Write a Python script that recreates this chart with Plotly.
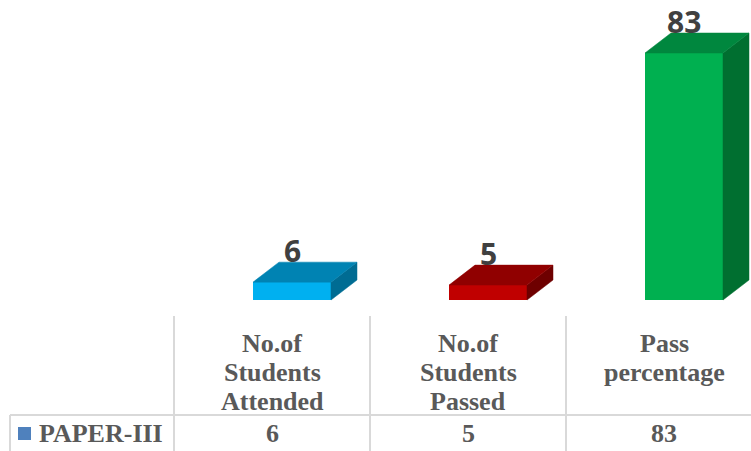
import plotly.graph_objects as go

categories = [["No.of", "Students", "Attended"], ["No.of", "Students", "Passed"], ["Pass", "percentage"]]
series_name = "PAPER-III"
values = [6, 5, 83]
front_colors = ["#00B0F0", "#C00000", "#00B050"]
top_colors = ["#0083B3", "#900000", "#00873E"]
side_colors = ["#006C93", "#6E0000", "#006F30"]

W, H = 751, 451
col_px = 196.0
px_per_unit = 247.0 / 83.0
x0 = -272.0 / col_px
x1 = x0 + W / col_px
y1 = 300.0 / px_per_unit
y0 = y1 - H / px_per_unit

bar_off = 20.0 / col_px
bar_w = 78.0 / col_px
dx = 26.0 / col_px
dy = 20.0 / px_per_unit

def py(p):
    return 1 - p / H

fig = go.Figure()
xs = list(range(len(values)))

for i, v in enumerate(values):
    xr = i + bar_off + bar_w / 2
    fig.add_trace(go.Scatter(x=[xr, xr + dx, xr + dx, xr, xr], y=[0, dy, v + dy, v, 0],
                             mode="lines", fill="toself", fillcolor=side_colors[i],
                             line=dict(color=side_colors[i], width=0.5), hoverinfo="skip", showlegend=False))
    xl = i + bar_off - bar_w / 2
    fig.add_trace(go.Scatter(x=[xl, xr, xr + dx, xl + dx, xl], y=[v, v, v + dy, v + dy, v],
                             mode="lines", fill="toself", fillcolor=top_colors[i],
                             line=dict(color=top_colors[i], width=0.5), hoverinfo="skip", showlegend=False))

fig.add_trace(go.Bar(x=[i + bar_off for i in xs], y=values, width=bar_w,
                     marker=dict(color=front_colors, line=dict(width=0)), showlegend=False, hoverinfo="skip"))

annotations = []
for i, v in enumerate(values):
    annotations.append(dict(x=i + bar_off, y=v + dy, xref="x", yref="y", text=str(v), showarrow=False,
                            yanchor="bottom", xanchor="center", yshift=-10, borderpad=0,
                            font=dict(family="Open Sans", size=30, color="#404040", weight="bold")))

tfont = dict(family="Liberation Serif", size=26, color="#595959", weight="bold")
line_ys = [343, 372, 401]
for i, lines in enumerate(categories):
    for j, t in enumerate(lines):
        annotations.append(dict(x=i, y=py(line_ys[j]), xref="x", yref="paper", text=t, showarrow=False,
                                xanchor="center", yanchor="middle", font=tfont))
    annotations.append(dict(x=i, y=py(433), xref="x", yref="paper", text=str(values[i]), showarrow=False,
                            xanchor="center", yanchor="middle", font=tfont))
annotations.append(dict(x=x0 + 37 / col_px, y=py(433), xref="x", yref="paper", text=series_name, showarrow=False,
                        xanchor="left", yanchor="middle", font=tfont))

gc = "#D9D9D9"
shapes = []
for b in [-0.5, 0.5, 1.5]:
    shapes.append(dict(type="line", xref="x", yref="paper", x0=b, x1=b, y0=py(316), y1=py(451),
                       line=dict(color=gc, width=2)))
left = x0 + 10 / col_px
shapes.append(dict(type="line", xref="x", yref="paper", x0=left, x1=left, y0=py(415), y1=py(451),
                   line=dict(color=gc, width=2)))
shapes.append(dict(type="line", xref="x", yref="paper", x0=left, x1=x1, y0=py(415), y1=py(415),
                   line=dict(color=gc, width=2)))
shapes.append(dict(type="rect", xref="x", yref="paper", x0=x0 + 18 / col_px, x1=x0 + 31 / col_px,
                   y0=py(440), y1=py(427), fillcolor="#4F81BD", line=dict(width=0)))

fig.update_layout(width=W, height=H, margin=dict(l=0, r=0, t=0, b=0),
                  paper_bgcolor="white", plot_bgcolor="white",
                  xaxis=dict(range=[x0, x1], visible=False, fixedrange=True),
                  yaxis=dict(range=[y0, y1], visible=False, fixedrange=True),
                  annotations=annotations, shapes=shapes, bargap=0)
fig.write_html("out.html", config={"displayModeBar": False},
               post_script="document.body.style.margin='0';document.body.style.overflow='hidden';")
